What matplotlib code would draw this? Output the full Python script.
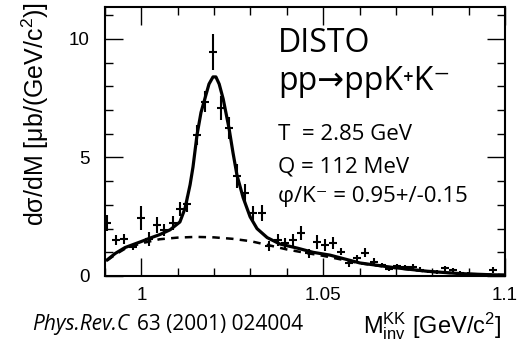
import numpy as np
import matplotlib
matplotlib.use("Agg")
import matplotlib.pyplot as plt

plt.rcParams['font.family'] = ['Liberation Sans', 'DejaVu Sans']
plt.rcParams['mathtext.fontset'] = 'custom'
plt.rcParams['mathtext.rm'] = 'Liberation Sans'
plt.rcParams['mathtext.it'] = 'Liberation Sans:italic'

# data points (K+K- invariant mass, GeV/c^2) and cross section
m_pts = [0.9906, 0.9930, 0.9952, 0.9977, 0.9999, 1.0021, 1.0043, 1.0062, 1.0087, 1.0106,
         1.0126, 1.0153, 1.0175, 1.0197, 1.0219, 1.0241, 1.0263, 1.0285, 1.0307, 1.0332,
         1.0351, 1.0376, 1.0395, 1.0417, 1.0439, 1.0461, 1.0483, 1.0505, 1.0527, 1.0549,
         1.0571, 1.0593, 1.0615, 1.0640, 1.0662, 1.0681, 1.0703, 1.0725, 1.0747, 1.0766,
         1.0788, 1.0813, 1.0835, 1.0857, 1.0876, 1.0898, 1.0920, 1.0942, 1.0967, 1.0989]
sig_pts = [2.24, 1.52, 1.56, 1.22, 2.45, 1.56, 2.15, 1.94, 2.24, 2.83,
           3.04, 5.95, 7.36, 9.45, 7.09, 6.24, 4.22, 3.50, 2.66, 2.66,
           1.27, 1.52, 1.39, 1.52, 1.81, 0.95, 1.43, 1.30, 1.39, 1.03,
           0.55, 0.74, 0.99, 0.59, 0.46, 0.30, 0.42, 0.38, 0.38, 0.27,
           0.19, 0.17, 0.32, 0.25, 0.13, 0.10, 0.06, 0.05, 0.25, 0.05]
err_pts = [0.35, 0.20, 0.20, 0.12, 0.50, 0.30, 0.35, 0.25, 0.30, 0.30,
           0.35, 0.42, 0.45, 0.75, 0.50, 0.45, 0.50, 0.40, 0.30, 0.35,
           0.20, 0.25, 0.20, 0.25, 0.30, 0.20, 0.30, 0.25, 0.25, 0.15,
           0.15, 0.15, 0.20, 0.15, 0.10, 0.10, 0.10, 0.10, 0.12, 0.10,
           0.08, 0.08, 0.10, 0.10, 0.08, 0.08, 0.06, 0.05, 0.12, 0.05]
half_bin = 0.0011

# fit (solid)
m_fit = [0.9906, 0.9928, 0.9955, 0.9999, 1.0024, 1.0051, 1.0079, 1.0106, 1.0120, 1.0134,
         1.0142, 1.0153, 1.0164, 1.0175, 1.0186, 1.0197, 1.0205, 1.0214, 1.0225, 1.0241,
         1.0252, 1.0263, 1.0280, 1.0299, 1.0318, 1.0346, 1.0381, 1.0428, 1.0472, 1.0519,
         1.0601, 1.0692, 1.0786, 1.0876, 1.0967, 1.1000]
sig_fit = [0.68, 0.95, 1.20, 1.45, 1.60, 1.75, 1.95, 2.28, 2.85, 3.85,
           4.60, 5.95, 6.90, 7.50, 8.10, 8.40, 8.40, 8.10, 7.47, 6.24,
           5.20, 4.25, 3.30, 2.50, 2.00, 1.62, 1.35, 1.18, 1.00, 0.88,
           0.55, 0.36, 0.20, 0.10, 0.05, 0.04]

# background (dashed)
m_bg = [0.9906, 0.9930, 0.9955, 1.0000, 1.0050, 1.0100, 1.0150, 1.0200, 1.0250, 1.0300,
        1.0350, 1.0400, 1.0450, 1.0500, 1.0600, 1.0692, 1.0786, 1.0876, 1.0967, 1.1000]
sig_bg = [0.66, 0.92, 1.15, 1.38, 1.55, 1.62, 1.65, 1.63, 1.57, 1.47,
          1.30, 1.12, 0.98, 0.85, 0.54, 0.35, 0.19, 0.10, 0.05, 0.04]

fig = plt.figure(figsize=(5.21, 3.41), dpi=100)
ax = fig.add_axes([105/521, 65/341, 400/521, 269/341])

ax.errorbar(m_pts, sig_pts, yerr=err_pts, xerr=half_bin, fmt='none',
            ecolor='black', elinewidth=1.5, capsize=0)
ax.plot(m_fit, sig_fit, color='black', lw=2.3)
ax.plot(m_bg, sig_bg, color='black', lw=1.8, ls=(0, (3, 2.5)))

ax.set_xlim(0.99, 1.1)
ax.set_ylim(0, 11.35)
ax.set_xticks([1.0, 1.05, 1.1])
ax.set_xticklabels(['1', '1.05', '1.1'])
ax.set_xticks(np.arange(0.99, 1.1, 0.01), minor=True)
ax.set_yticks([0, 5, 10])
ax.set_yticks(range(0, 12), minor=True)
ax.tick_params(which='both', direction='in', top=True, right=True, labelsize=13.5)
ax.tick_params(which='major', length=13, width=1)
ax.tick_params(which='minor', length=6, width=1)
ax.tick_params(axis='y', pad=11)
ax.tick_params(axis='x', pad=8)
for s in ax.spines.values():
    s.set_linewidth(1.5)

fig.text(35/521, 0.665, 'd\u03c3/dM [\u03bcb/(GeV/c$^{2}$)]', rotation=90,
         ha='center', va='center', fontsize=18)
fig.text(363/521, 8/341, r'M$_{\rm inv}^{\rm KK}$ [GeV/c$^{2}$]', fontsize=17,
         ha='left', va='baseline')

tf = ['Open Sans', 'DejaVu Sans']
t1 = fig.text(32/521, 11/341, 'Phys.Rev.C', family=tf, style='italic', fontsize=15,
              va='baseline')
fig.canvas.draw()
bb = t1.get_window_extent()
fig.text((bb.x1 + 8)/521, 11/341, '63 (2001) 024004', family=tf, fontsize=15,
         va='baseline')

fig.text(278/521, (341-52)/341, 'DISTO', family=tf, fontsize=23, va='baseline')
fig.text(278/521, (341-90)/341, 'pp\u2192ppK\u207aK\u207b', family=tf, fontsize=23,
         va='baseline')
fig.text(278/521, (341-140)/341, 'T  = 2.85 GeV', family=tf, fontsize=16, va='baseline')
fig.text(278/521, (341-172)/341, 'Q = 112 MeV', family=tf, fontsize=16, va='baseline')
fig.text(278/521, (341-202)/341, '\u03c6/K\u207b = 0.95+/-0.15', family=tf, fontsize=16,
         va='baseline')

fig.savefig('out.png', dpi=100)
